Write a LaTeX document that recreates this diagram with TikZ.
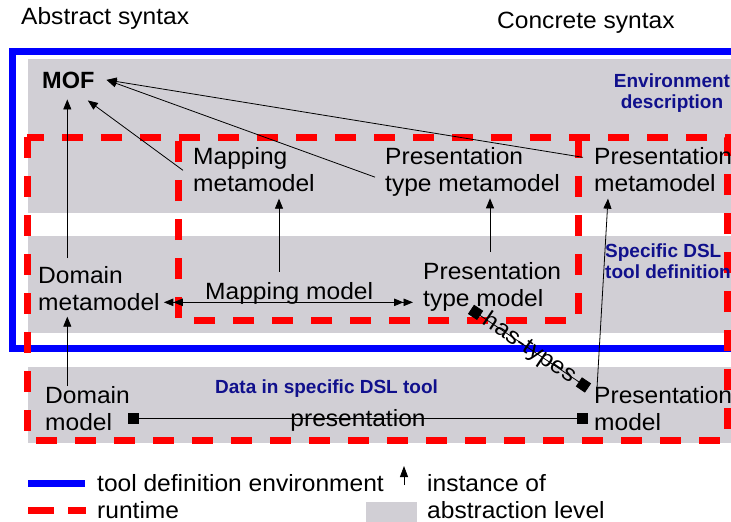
\documentclass[tikz,border=0pt]{standalone}
\usepackage{fontspec}
\setmainfont{Liberation Sans}
\newfontfamily\lblfont{Liberation Sans}[FakeStretch=1.045]
\usetikzlibrary{arrows.meta,calc}
\definecolor{bandgray}{RGB}{209,207,213}
\definecolor{tagblue}{RGB}{16,16,140}
\definecolor{envblue}{RGB}{0,0,255}
\definecolor{runred}{RGB}{255,0,0}

\begin{document}
\begin{tikzpicture}[x=1pt,y=-1pt,
  lbl/.style={font=\lblfont\fontsize{23.5}{27}\selectfont, align=left, inner sep=0pt},
  tag/.style={font=\bfseries\fontsize{19}{21}\selectfont, text=tagblue, inner sep=0pt},
  band/.style={fill=bandgray, draw=none},
  envline/.style={draw=envblue, line width=7pt},
  runline/.style={draw=runred, line width=7pt, dash pattern=on 21pt off 18pt},
  inst/.style={draw=black, line width=0.8pt, -{Triangle[length=10pt,width=8pt]}},
  both/.style={draw=black, line width=0.8pt,
    {Triangle[length=9.5pt,width=7.5pt]Triangle[length=9.5pt,width=7.5pt]}-{Triangle[length=9.5pt,width=7.5pt]Triangle[length=9.5pt,width=7.5pt]}},
  link/.style={draw=black, line width=0.8pt, {Square[length=11pt,width=11pt]}-{Square[length=11pt,width=11pt]}},
]
\useasboundingbox (0,0) rectangle (731,522);
\clip (0,0) rectangle (731,522);

% abstraction levels
\fill[band] (28,59) rectangle (731,213);
\fill[band] (28,236) rectangle (731,333);
\fill[band] (28,367) rectangle (731,443);

% tool definition environment
\draw[envline] (745,51) -- (12,51) -- (12,348) -- (745,348);

% runtime regions
\draw[runline] (27,137) rectangle (727,440);
\draw[runline] (578,137) -- (578,320) -- (178,320) -- (178,137);

% column headings
\node[lbl, anchor=base west] (abs) at (21,24) {Abstract syntax};
\node[lbl, anchor=base west] (conc) at (497,28) {Concrete syntax};

% level captions
\node[tag, align=center, anchor=north] (env) at (672,73.4) {Environment\\description};
\node[tag, align=left, anchor=north west] (dsl) at (605,243.4) {Specific DSL\\tool definition};
\node[tag, anchor=base west] (data) at (215,393) {Data in specific DSL tool};

% models
\node[inner sep=0pt, font=\bfseries\fontsize{23.5}{27}\selectfont, anchor=base west] (mof) at (42,88) {MOF};
\node[lbl, anchor=north west] (mmm) at (193,147) {Mapping\\metamodel};
\node[lbl, anchor=north west] (ptmm) at (385,147) {Presentation\\type metamodel};
\node[lbl, anchor=north west] (pmm) at (594,147) {Presentation\\metamodel};
\node[lbl, anchor=north west] (dmm) at (38,266) {Domain\\metamodel};
\node[lbl, anchor=base west] (mm) at (205,299) {Mapping model};
\node[lbl, anchor=north west] (ptm) at (423,262) {Presentation\\type model};
\node[lbl, anchor=north west] (dm) at (45,386) {Domain\\model};
\node[lbl, anchor=north west] (pm) at (594,386) {Presentation\\model};

% instance-of relations
\coordinate (mofS) at ($(mof.south)+(-1,11)$);
\coordinate (mofE) at ($(mof.east)+(12,0)$);
\draw[inst] ($(mofS |- dmm.north)+(0,-8)$) -- (mofS);
\draw[inst] ($(mmm.west)+(-10,1)$) -- ($(mof.south)+(19.5,12)$);
\draw[inst] ($(ptmm.west)+(-10,5.5)$) -- (mofE);
\draw[inst] ($(pmm.west)+(-11,-12)$) -- (mofE);
\draw[inst] (mofS |- dm.north) -- ($(mofS |- dmm.south)+(0,6)$);
\coordinate (mmT) at ($(mm.north west)+(74,-10)$);
\draw[inst] (mmT) -- ($(mmT |- mmm.south)+(0,7)$);
\coordinate (ptmT) at ($(ptm.north west)+(67,-10)$);
\draw[inst] (ptmT) -- ($(ptmT |- ptmm.south)+(0,2)$);
\draw[inst] ($(pm.north west)+(3,2)$) -- ($(pmm.south west)+(14,7)$);

% mapping between domain and presentation types
\coordinate (mL) at ($(dmm.east)+(4,14)$);
\draw[both] (mL) -- ($(mL -| ptm.west)+(-10,0)$);

% has-types
\draw[link] ($(ptm.south west)+(48,-2)$) -- ($(pm.north west)+(-6,2)$)
  node[midway, sloped, inner sep=0pt, font=\lblfont\fontsize{23.5}{27}\selectfont] {has-types};

% presentation
\coordinate (pL) at ($(dm.east)+(-2,10)$);
\draw[link] (pL) -- ($(pL -| pm.west)+(-6,0)$)
  node[midway, anchor=base, yshift=-8pt, inner sep=0pt, font=\lblfont\fontsize{23.5}{27}\selectfont] {presentation};

% legend
\draw[envline] (28,483) -- (85,483);
\node[lbl, anchor=base west] (lg1) at (97,491) {tool definition environment};
\draw[draw=black, line width=0.8pt, -{Triangle[length=11pt,width=8pt]}] (404,485) -- (404,466);
\node[lbl, anchor=base west] (lg2) at (427,491) {instance of};
\draw[draw=runred, line width=7pt, dash pattern=on 26pt off 14pt] (28,510) -- (86,510);
\node[lbl, anchor=base west] (lg3) at (97,518) {runtime};
\fill[band] (366,502) rectangle (417,522);
\node[lbl, anchor=base west] (lg4) at (427,518) {abstraction level};
\end{tikzpicture}
\end{document}
